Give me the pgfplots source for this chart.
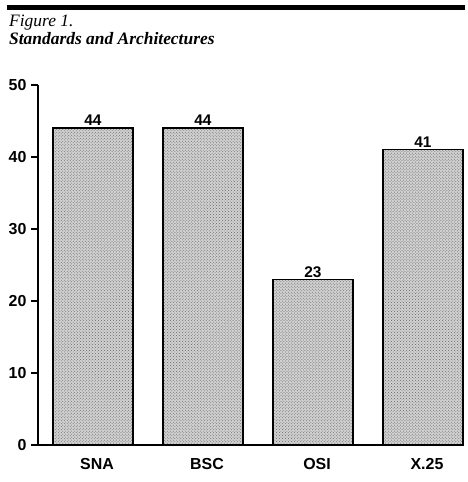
\documentclass[border=0pt]{standalone}
\usepackage{fontspec}
\setmainfont{Liberation Sans}
\newfontfamily\titlefont{Liberation Serif}
\usepackage{pgfplots}
\usetikzlibrary{patterns}
\pgfplotsset{compat=1.18}
\begin{document}
\begin{tikzpicture}[x=1bp,y=1bp]
\path (0,0) rectangle (468,482);
% heading rule and caption
\fill (7,472) rectangle (465,477);
\node[anchor=base west, inner sep=0] at (9,455)
  {\titlefont\itshape\fontsize{17.5}{20}\selectfont Figure 1.};
\node[anchor=base west, inner sep=0] at (9,437)
  {\titlefont\bfseries\itshape\fontsize{17.5}{20}\selectfont Standards and Architectures};
\begin{axis}[
  at={(38bp,37bp)}, anchor=south west,
  scale only axis, width=425bp, height=360bp,
  xmin=-0.5, xmax=3.364, ymin=0, ymax=50,
  axis x line*=bottom, axis y line*=left,
  axis line style={line width=1.5bp},
  ytick={0,10,20,30,40,50},
  xtick={0,1,2,3}, xticklabels={SNA,BSC,OSI,X.25},
  x tick style={draw=none},
  y tick style={line width=1.3bp, black},
  tick align=outside, major tick length=7bp,
  tick label style={font=\bfseries\fontsize{16}{18}\selectfont},
  /pgf/number format/assume math mode=true,
  yticklabel style={xshift=-1bp},
  xticklabel style={xshift=4bp, yshift=-3bp},
  ybar, bar width=80bp,
  nodes near coords,
  every node near coord/.append style={font=\bfseries\fontsize{15.5}{17}\selectfont, inner sep=1.5bp},
  clip=false,
]
% stippled bars
\addplot[fill=black!18, draw=black, line width=1.4bp,
  postaction={pattern=crosshatch dots, pattern color=black!60}]
  coordinates {(0,44) (1,44) (2,23) (3,41)};
\end{axis}
\end{tikzpicture}
\end{document}
